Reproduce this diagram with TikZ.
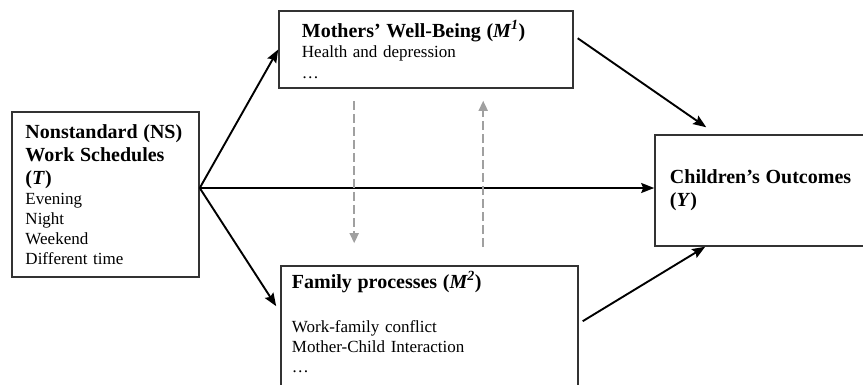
\documentclass[tikz,border=0pt]{standalone}
\usepackage{fontspec}
\setmainfont{Liberation Serif}
\usetikzlibrary{arrows.meta}
\definecolor{dashgray}{HTML}{A0A0A0}
\tikzstyle{box} = [rectangle, draw=black!80, line width=1.5pt, align=left, inner ysep=0pt, font=\fontsize{17}{20}\selectfont]
\tikzstyle{arrow} = [line width=1.9pt, ->, >={Stealth[length=13pt,width=10pt,inset=2pt]}]
\tikzstyle{link} = [line width=1.6pt, draw=dashgray, dash pattern=on 9pt off 4pt, ->, >={Triangle[length=10pt,width=9pt]}]
\newcommand{\hd}{\fontsize{20}{23}\selectfont\bfseries}

\begin{document}
\begin{tikzpicture}[node distance=1cm]
\useasboundingbox (-105.5pt,194.5pt) rectangle (757.5pt,-189.5pt);
\node (schedules) [box, text width=160pt, inner xsep=13.5pt, minimum height=165pt] {{\hd Nonstandard (NS)\\ Work Schedules\\ (\textit{T})\par}Evening\\ Night\\ Weekend\\ Different time};
\node (wellbeing) [box, text width=248pt, inner xsep=23pt, minimum height=77pt, right of=schedules, xshift=292pt, yshift=145pt] {{\hd Mothers’ Well-Being (\textit{M\textsuperscript{1}})\par}Health and depression\\[1pt] \ldots};
\node (family) [box, text width=275pt, inner xsep=11pt, minimum height=134pt, below of=wellbeing, xshift=3.5pt, yshift=-255pt] {{\hd Family processes (\textit{M\textsuperscript{2}})\par}\vspace{24pt}Work-family conflict\\ Mother-Child Interaction\\ \ldots\rule[-22pt]{0pt}{0pt}};
\node (outcomes) [box, text width=195pt, inner xsep=15pt, minimum height=111pt, right of=schedules, xshift=633.5pt, yshift=4pt] {{\hd Children’s Outcomes\\[3pt] (\textit{Y})}};

\draw [arrow] ([yshift=6.5pt]schedules.east) -- (wellbeing.west);
\draw [arrow] ([yshift=6.5pt]schedules.east) -- ([xshift=-4pt,yshift=-41pt]family.north west);
\draw [arrow] ([yshift=6.5pt]schedules.east) -- ([yshift=2.5pt]outcomes.west);
\draw [arrow] ([xshift=4pt,yshift=-28pt]wellbeing.north east) -- ([xshift=52pt,yshift=7pt]outcomes.north west);
\draw [arrow] ([xshift=4pt,yshift=-56pt]family.north east) -- ([xshift=51pt]outcomes.south west);
\draw [link] ([xshift=76pt,yshift=-12pt]wellbeing.south west) -- ([xshift=74pt,yshift=22pt]family.north west);
\draw [link] ([xshift=203pt,yshift=18pt]family.north west) -- ([xshift=205pt,yshift=-12pt]wellbeing.south west);

\end{tikzpicture}
\end{document}
